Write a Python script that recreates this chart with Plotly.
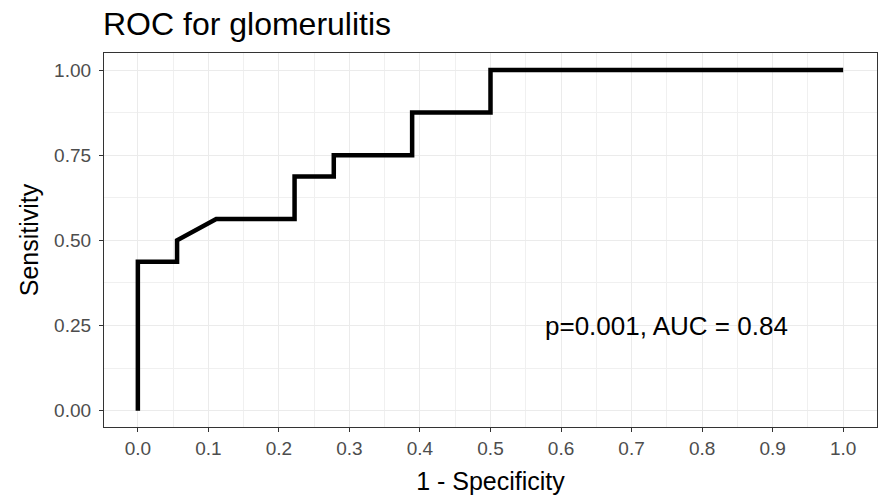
import plotly.graph_objects as go

# ROC curve points (1 - specificity, sensitivity)
fpr = [0.0, 0.0, 0.0556, 0.0556, 0.1111, 0.2222, 0.2222, 0.2778, 0.2778, 0.3889, 0.3889, 0.5, 0.5, 1.0]
tpr = [0.0, 0.4375, 0.4375, 0.5, 0.5625, 0.5625, 0.6875, 0.6875, 0.75, 0.75, 0.875, 0.875, 1.0, 1.0]

x_ticks = [0.0, 0.1, 0.2, 0.3, 0.4, 0.5, 0.6, 0.7, 0.8, 0.9, 1.0]
x_tick_labels = ["0.0", "0.1", "0.2", "0.3", "0.4", "0.5", "0.6", "0.7", "0.8", "0.9", "1.0"]
y_ticks = [0.0, 0.25, 0.5, 0.75, 1.0]
y_tick_labels = ["0.00", "0.25", "0.50", "0.75", "1.00"]

p_value = "0.001"
auc = 0.84

FONT = "Liberation Sans, Arial, sans-serif"

fig = go.Figure()
fig.add_trace(go.Scatter(
    x=fpr, y=tpr, mode="lines",
    line=dict(color="black", width=4.5),
    hoverinfo="skip", showlegend=False,
))

fig.add_annotation(
    x=0.75, y=0.25, xref="x", yref="y",
    text=f"p={p_value}, AUC = {auc:.2f}",
    showarrow=False, xanchor="center", yanchor="middle",
    font=dict(family=FONT, size=26, color="black"),
)

axis_common = dict(
    showline=True, linecolor="#333333", linewidth=1.2, mirror=True,
    ticks="outside", ticklen=4, tickcolor="#333333", tickwidth=1.2,
    showgrid=True, gridcolor="#EBEBEB", gridwidth=1.3,
    zeroline=False,
    tickfont=dict(family=FONT, size=19, color="#4D4D4D"),
)

fig.update_xaxes(
    range=[-0.048, 1.048], tickvals=x_ticks, ticktext=x_tick_labels,
    minor=dict(tickvals=[round(v + 0.05, 2) for v in x_ticks[:-1]],
               showgrid=True, gridcolor="#F0F0F0", gridwidth=0.9, ticks=""),
    title=dict(text="1 - Specificity", font=dict(family=FONT, size=25, color="black"), standoff=14),
    **axis_common,
)
fig.update_yaxes(
    range=[-0.048, 1.05], tickvals=y_ticks, ticktext=y_tick_labels,
    ticklabelstandoff=4,
    minor=dict(tickvals=[0.125, 0.375, 0.625, 0.875],
               showgrid=True, gridcolor="#F0F0F0", gridwidth=0.9, ticks=""),
    title=dict(text="Sensitivity", font=dict(family=FONT, size=25, color="black"), standoff=8),
    **axis_common,
)

fig.update_layout(
    width=880, height=495,
    margin=dict(l=104, r=3, t=53, b=68),
    paper_bgcolor="white", plot_bgcolor="white",
    title=dict(text="ROC for glomerulitis", x=103 / 880, xanchor="left",
               y=1 - 24 / 495, yanchor="middle",
               font=dict(family=FONT, size=32, color="black")),
)

fig.write_html("out.html")
